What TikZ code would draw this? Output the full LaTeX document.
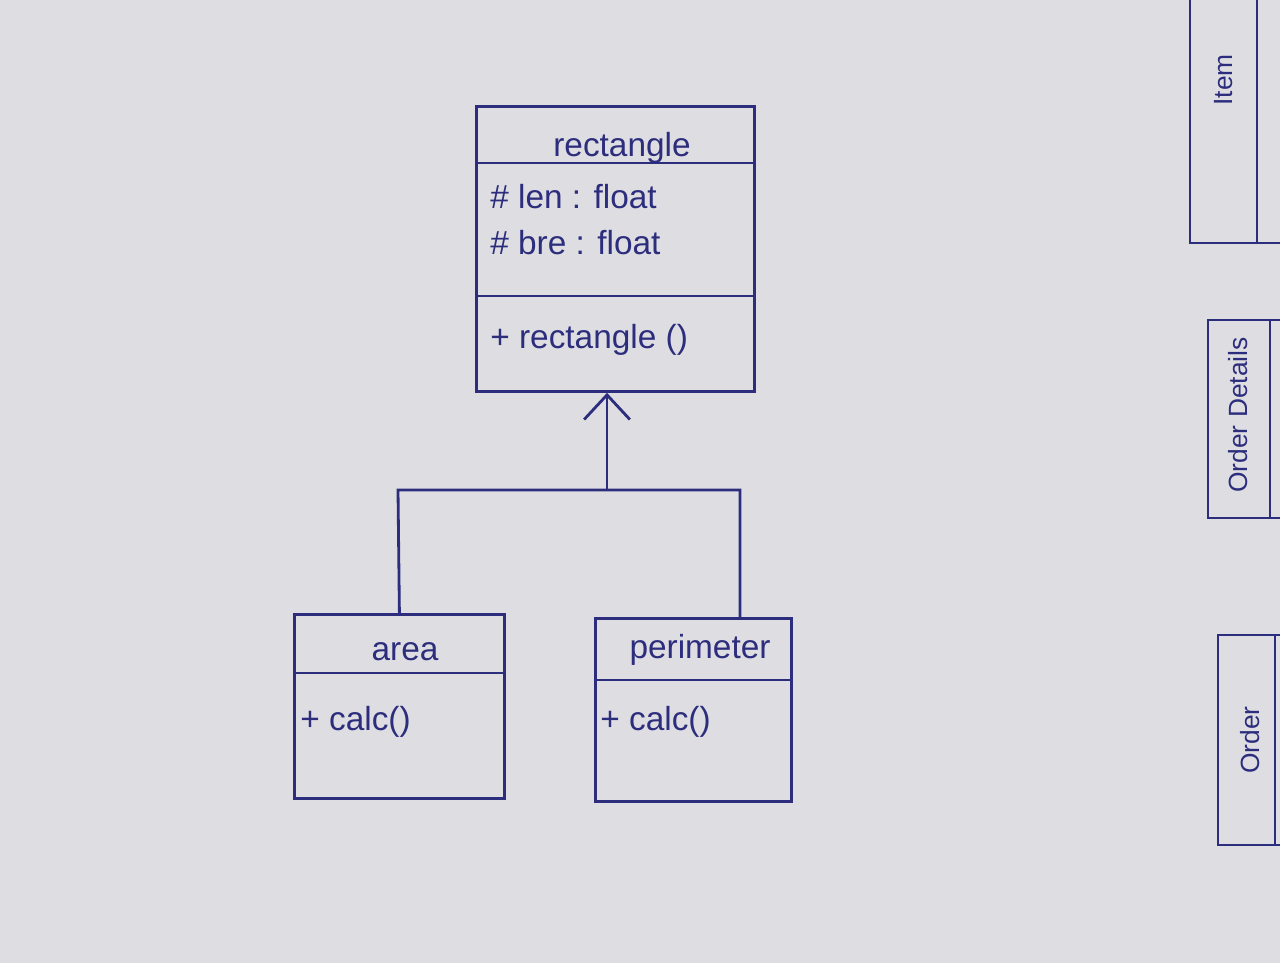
\documentclass[tikz,border=0pt]{standalone}
\usepackage{fontspec}
\setmainfont{Liberation Sans}
\usetikzlibrary{calc,arrows.meta}
\definecolor{ink}{RGB}{45,45,125}
\definecolor{paper}{RGB}{222,222,226}
\tikzset{
  classbox/.style={draw=ink, line width=1.6pt, inner sep=0pt},
  divider/.style={draw=ink, line width=1.4pt},
  conn/.style={draw=ink, line width=1.6pt},
  lbl/.style={text=ink, font=\fontsize{19}{22}\selectfont, inner sep=0pt},
  sidelbl/.style={text=ink, font=\fontsize{15}{18}\selectfont, inner sep=0pt, rotate=90},
}
\begin{document}
\begin{tikzpicture}[x=0.02cm,y=-0.02cm]
\fill[paper] (0,0) rectangle (1280,963);
\useasboundingbox (0,0) rectangle (1280,963);

% superclass
\node[classbox, minimum width=278*0.02cm, minimum height=285*0.02cm, anchor=north west] (rect) at (475,105) {};
\coordinate (rd1) at (475,163);
\coordinate (rd2) at (475,296);
\draw[divider] (rd1) -- (rd1 -| rect.east);
\draw[divider] (rd2) -- (rd2 -| rect.east);
\node[lbl] (rname) at (622,148) {rectangle};
\node[lbl, anchor=west] (ra1) at (490,197) {\# len : float};
\node[lbl, anchor=west] (ra2) at (490,243) {\# bre : float};
\node[lbl, anchor=west] (rm1) at (490,340) {+ rectangle ()};

% subclass area
\node[classbox, minimum width=210*0.02cm, minimum height=184*0.02cm, anchor=north west] (area) at (293,613) {};
\coordinate (ad1) at (293,673);
\draw[divider] (ad1) -- (ad1 -| area.east);
\node[lbl] (aname) at (405,652) {area};
\node[lbl, anchor=west] (am1) at (300,722) {+ calc()};

% subclass perimeter
\node[classbox, minimum width=196*0.02cm, minimum height=183*0.02cm, anchor=north west] (per) at (594,617) {};
\coordinate (pd1) at (594,680);
\draw[divider] (pd1) -- (pd1 -| per.east);
\node[lbl] (pname) at (700,650) {perimeter};
\node[lbl, anchor=west] (pm1) at (600,722) {+ calc()};

% inheritance connectors
\coordinate (junc) at (607,490);
\coordinate (jl) at (398,490);
\coordinate (jr) at (740,490);
\draw[conn] (area.north) -- (jl) -- (jr) -- (jr |- per.north);
\draw[conn, -{Straight Barb[length=14pt,width=26pt]}] (junc) -- (junc |- rect.south);

% partial boxes at the right edge
\draw[divider] (1190,0) -- (1190,243) -- (1280,243);
\draw[divider] (1257,0) -- (1257,243);
\node[sidelbl] (item) at (1224,80) {Item};
\draw[divider] (1280,320) -- (1208,320) -- (1208,518) -- (1280,518);
\draw[divider] (1270,320) -- (1270,518);
\node[sidelbl] (od) at (1238,415) {Order Details};
\draw[divider] (1280,635) -- (1218,635) -- (1218,845) -- (1280,845);
\draw[divider] (1275,635) -- (1275,845);
\node[sidelbl] (ord) at (1250,740) {Order};
\end{tikzpicture}
\end{document}
